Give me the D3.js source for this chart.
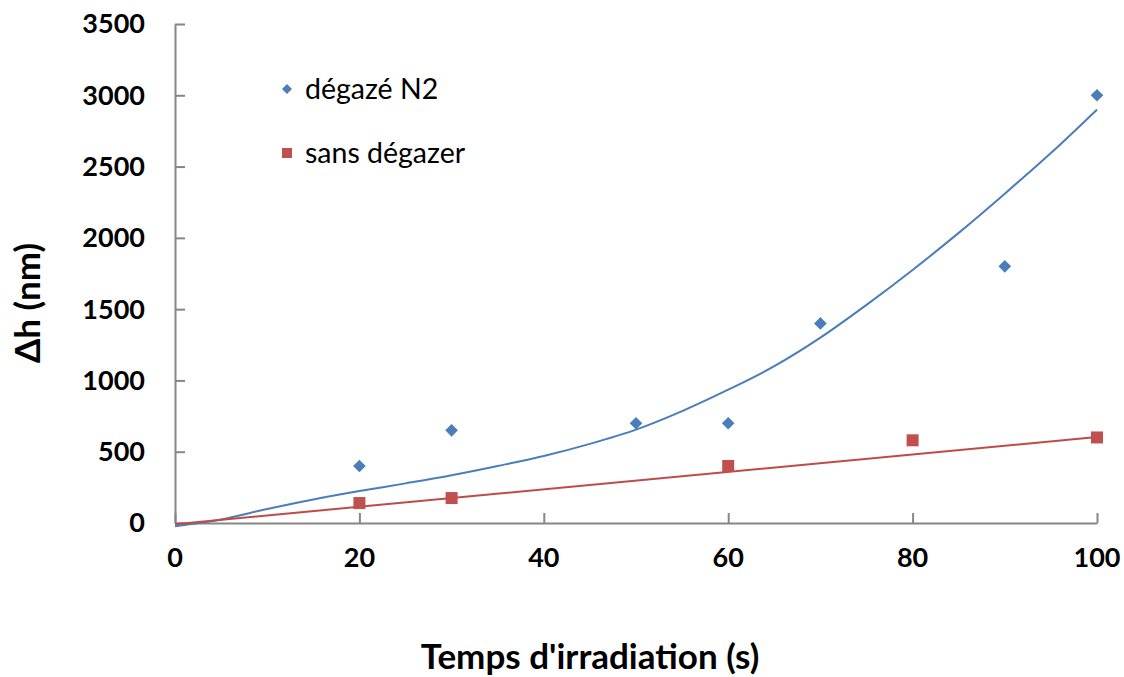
<!DOCTYPE html>
<html>
<head>
<meta charset="utf-8">
<script src="https://cdn.jsdelivr.net/npm/d3@7"></script>
<style>
    body { margin: 0; background: #fff; }
    svg { display: block; font-family: Lato, "Open Sans", sans-serif; }
</style>
</head>
<body>
<div id="root"></div>
<script>
// points
const tempsDegaze = [20, 30, 50, 60, 70, 90, 100];
const hDegaze = [400, 650, 700, 700, 1400, 1800, 3000];
const tempsSans = [20, 30, 60, 80, 100];
const hSans = [140, 175, 400, 580, 600];

// trend lines
const trendDegazeX = [0, 5, 10, 15, 20, 25, 30, 35, 40, 45, 50, 55, 60, 65, 70, 75, 80, 85, 90, 95, 100];
const trendDegazeY = [-22, 25, 98, 165, 224, 278, 335, 400, 470, 555, 655, 785, 935, 1100, 1300, 1530, 1775, 2035, 2310, 2595, 2900];
const trendSansX = [0, 100];
const trendSansY = [-8, 603];

const xTicks = [0, 20, 40, 60, 80, 100];
const yTicks = [0, 500, 1000, 1500, 2000, 2500, 3000, 3500];

const seriesNames = ["dégazé N2", "sans dégazer"];
const blue = "#4a7ebb";
const red = "#c0504d";
const axisColor = "#868686";

const width = 1124, height = 677;
const svg = d3.select("#root").append("svg")
    .attr("width", width)
    .attr("height", height);

const x = d3.scaleLinear().domain([0, 100]).range([175, 1097]);
const y = d3.scaleLinear().domain([0, 3500]).range([523, 24]);

// axes, ticks pointing inwards like the excel original
const xAxis = svg.append("g")
    .attr("transform", `translate(0, ${y(0)})`)
    .call(d3.axisTop(x).tickValues(xTicks).tickSize(10).tickSizeOuter(0).tickFormat(""));
const yAxis = svg.append("g")
    .attr("transform", `translate(${x(0)}, 0)`)
    .call(d3.axisRight(y).tickValues(yTicks).tickSize(10).tickSizeOuter(0).tickFormat(""));
svg.selectAll(".domain, .tick line")
    .attr("stroke", axisColor)
    .attr("stroke-width", 2);

svg.append("g").selectAll("text")
    .data(xTicks)
    .enter()
    .append("text")
        .attr("x", d => x(d))
        .attr("y", y(0) + 44)
        .attr("text-anchor", "middle")
        .attr("font-size", 27)
        .attr("font-weight", "bold")
        .text(d => d);

svg.append("g").selectAll("text")
    .data(yTicks)
    .enter()
    .append("text")
        .attr("x", x(0) - 30)
        .attr("y", d => y(d))
        .attr("dy", "0.35em")
        .attr("text-anchor", "end")
        .attr("font-size", 27)
        .attr("font-weight", "bold")
        .text(d => d);

// axis titles
svg.append("text")
    .attr("x", 590)
    .attr("y", 669)
    .attr("text-anchor", "middle")
    .attr("font-size", 35)
    .attr("font-weight", "bold")
    .text("Temps d'irradiation (s)");

svg.append("text")
    .attr("transform", "translate(40, 303) rotate(-90)")
    .attr("text-anchor", "middle")
    .attr("font-size", 35)
    .attr("font-weight", "bold")
    .text("Δh (nm)");

// trend lines
const line = d3.line()
    .x(d => x(d[0]))
    .y(d => y(d[1]))
    .curve(d3.curveMonotoneX);

svg.append("path")
    .datum(d3.zip(trendDegazeX, trendDegazeY))
    .attr("d", line)
    .attr("fill", "none")
    .attr("stroke", blue)
    .attr("stroke-width", 2);

svg.append("path")
    .datum(d3.zip(trendSansX, trendSansY))
    .attr("d", line)
    .attr("fill", "none")
    .attr("stroke", "#be4b48")
    .attr("stroke-width", 2);

// markers
const diamond = d3.symbol().type(d3.symbolSquare).size(80);

svg.append("g").selectAll("path")
    .data(d3.zip(tempsDegaze, hDegaze))
    .enter()
    .append("path")
        .attr("d", diamond)
        .attr("transform", d => `translate(${x(d[0])}, ${y(d[1])}) rotate(45)`)
        .attr("fill", blue);

svg.append("g").selectAll("rect")
    .data(d3.zip(tempsSans, hSans))
    .enter()
    .append("rect")
        .attr("x", d => x(d[0]) - 6)
        .attr("y", d => y(d[1]) - 6)
        .attr("width", 12)
        .attr("height", 12)
        .attr("fill", red);

// legend
const legend = svg.append("g").attr("transform", "translate(287, 89)");

legend.append("path")
    .attr("d", d3.symbol().type(d3.symbolSquare).size(50))
    .attr("transform", "rotate(45)")
    .attr("fill", blue);
legend.append("rect")
    .attr("x", -5)
    .attr("y", 59)
    .attr("width", 10)
    .attr("height", 10)
    .attr("fill", red);

legend.selectAll("text")
    .data(seriesNames)
    .enter()
    .append("text")
        .attr("x", 18)
        .attr("y", (d, i) => i * 64)
        .attr("dy", "0.35em")
        .attr("font-size", 28.5)
        .text(d => d);
</script>
</body>
</html>
